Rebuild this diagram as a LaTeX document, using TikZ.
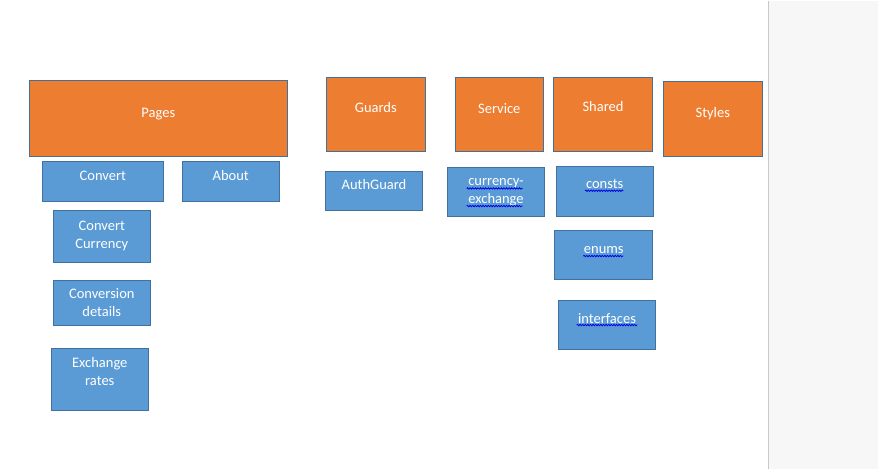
\documentclass[tikz,border=0pt]{standalone}
\usepackage{fontspec}
\setmainfont{Carlito}
\usetikzlibrary{shapes,arrows,positioning,decorations.pathmorphing}
\definecolor{folderorange}{HTML}{ED7D31}
\definecolor{fileblue}{HTML}{5B9BD5}
\definecolor{edgeblue}{HTML}{41719C}
\definecolor{panelgray}{HTML}{F7F7F7}
\definecolor{panelline}{HTML}{C8C8C8}

\begin{document}
\begin{tikzpicture}[x=1pt,y=-1pt]
% Define node styles
\tikzstyle{box} = [rectangle, draw=edgeblue, line width=1pt, text=white, inner sep=0pt, font=\fontsize{14.5}{18}\selectfont]
\tikzstyle{folder} = [box, fill=folderorange, text height=10pt, text depth=12pt]
\tikzstyle{file} = [box, fill=fileblue, text height=10pt, text depth=12pt]
\tikzstyle{twofile} = [box, fill=fileblue, align=center]
\tikzstyle{squiggle} = [blue!90!black, line width=0.8pt, decorate, decoration={snake, amplitude=0.7pt, segment length=2.6pt}]

% Page and side panel
\fill[white] (0,0) rectangle (878,468);
\fill[panelgray] (768,0) rectangle (878,468);
\draw[panelline, line width=1.5pt] (768.5,0) -- (768.5,468);

% Draw top level folders
\node[folder, minimum width=258pt, minimum height=75.3pt] (pages) at (158.3,117.7) {Pages};
\node[folder, text depth=14pt, minimum width=99pt, minimum height=74.7pt] (guards) at (375.8,113.7) {Guards};
\node[folder, minimum width=88pt, minimum height=74.7pt] (service) at (499.3,113.7) {Service};
\node[folder, text depth=15pt, minimum width=99.4pt, minimum height=74.7pt] (shared) at (603,113.7) {Shared};
\node[folder, minimum width=99pt, minimum height=75pt] (styles) at (712.8,117.8) {Styles};

% Draw pages
\node[file, minimum width=121pt, minimum height=39.3pt] (convert) at (102.8,180.7) {Convert};
\node[file, minimum width=97pt, minimum height=39.3pt] (about) at (230.8,180.7) {About};
\node[twofile, minimum width=97pt, minimum height=52pt] (convcurrency) at (101.8,235.3) {Convert\\Currency};
\node[twofile, minimum width=97pt, minimum height=45pt] (convdetails) at (101.8,301.8) {Conversion\\details};
\node[twofile, text depth=15pt, minimum width=97pt, minimum height=62pt] (exrates) at (99.8,378.3) {Exchange\\rates};

% Draw guards, service and shared
\node[file, minimum width=97.4pt, minimum height=39pt] (authguard) at (374,189.8) {AuthGuard};
\node[twofile, minimum width=97.4pt, minimum height=48.6pt] (curexchange) at (496,191) {currency-\\exchange};
\node[file, text depth=15pt, minimum width=97.3pt, minimum height=49.3pt] (consts) at (604.7,190.7) {consts};
\node[file, minimum width=97.7pt, minimum height=49pt] (enums) at (603.8,253.8) {enums};
\node[file, minimum width=97.4pt, minimum height=49pt] (interfaces) at (607,323.8) {interfaces};

% Spell check marks
\draw[squiggle] (466.7,187.7) -- (522.7,187.7);
\draw[squiggle] (466.7,205.3) -- (522.7,205.3);
\draw[squiggle] (585,190) -- (623.3,190);
\draw[squiggle] (583.3,255.3) -- (623.3,255.3);
\draw[squiggle] (576.7,324.3) -- (637.3,324.3);
\end{tikzpicture}
\end{document}
